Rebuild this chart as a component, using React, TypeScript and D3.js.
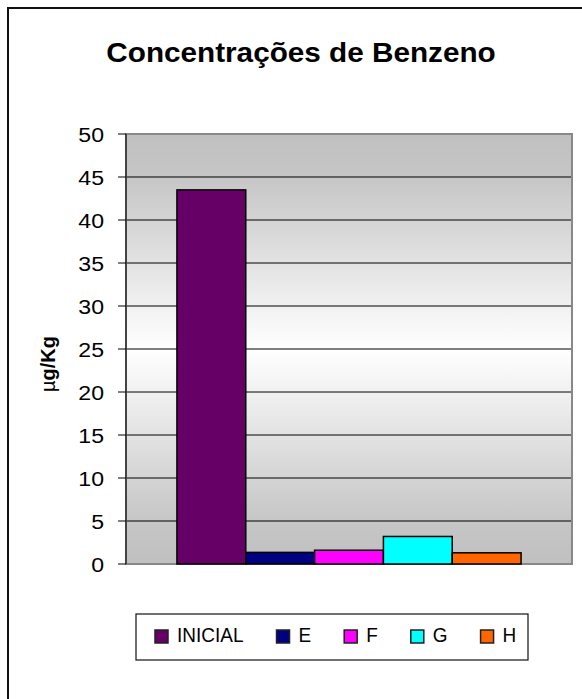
import { useMemo } from "react";
import * as d3 from "d3";

const series = ["INICIAL", "E", "F", "G", "H"];
const values = [43.5, 1.35, 1.6, 3.2, 1.3];
const colors = ["#660066", "#000080", "#FF00FF", "#00FFFF", "#FF6600"];
const yTicks = [0, 5, 10, 15, 20, 25, 30, 35, 40, 45, 50];
const title = "Concentrações de Benzeno";
const yLabelPrefix = "µ";
const yLabel = "g/Kg";

const W = 582;
const H = 699;
const plot = { left: 126, right: 572, top: 134, bottom: 564 };
const font = "'Liberation Sans', Arial, sans-serif";

function measure(text: string, size: number) {
  const c = document.createElement("canvas").getContext("2d");
  if (!c) return text.length * size * 0.6;
  c.font = `${size}px 'Liberation Sans', Arial`;
  return c.measureText(text).width;
}

export default function App() {
  const x = useMemo(
    () =>
      d3
        .scaleBand<string>()
        .domain(series)
        .range([plot.left, plot.right])
        .paddingInner(0)
        .paddingOuter(0.74),
    []
  );
  const y = useMemo(
    () => d3.scaleLinear().domain([0, 50]).range([plot.bottom, plot.top]),
    []
  );

  const legendSize = 20;
  const legendSqueeze = 0.95;
  const legendItems = useMemo(() => {
    let cx = 155;
    return series.map((s, i) => {
      const item = { name: s, color: colors[i], x: cx };
      cx += 13 + 9 + measure(s, legendSize) * legendSqueeze + 33;
      return item;
    });
  }, []);

  return (
    <svg
      width={W}
      height={H}
      style={{ position: "absolute", left: 0, top: 0, background: "#fff" }}
      fontFamily={font}
    >
      <defs>
        <linearGradient id="bg" x1="0" y1="0" x2="0" y2="1">
          <stop offset="0" stopColor="#c0c0c0" />
          <stop offset="0.1" stopColor="#c6c6c6" />
          <stop offset="0.5" stopColor="#ffffff" />
          <stop offset="0.9" stopColor="#c6c6c6" />
          <stop offset="1" stopColor="#c0c0c0" />
        </linearGradient>
      </defs>
      <rect x={8} y={8} width={700} height={800} fill="#fff" stroke="#111" strokeWidth={2} />

      <text
        transform={`translate(301,62) scale(1.1,1)`}
        textAnchor="middle"
        fontSize={27}
        fontWeight="bold"
      >
        {title}
      </text>

      <rect
        x={plot.left}
        y={plot.top}
        width={plot.right - plot.left}
        height={plot.bottom - plot.top}
        fill="url(#bg)"
      />
      {yTicks
        .filter((t) => t > 0 && t < 50)
        .map((t) => (
          <line
            key={t}
            x1={plot.left}
            x2={plot.right}
            y1={y(t)}
            y2={y(t)}
            stroke="#000"
            strokeWidth={1}
          />
        ))}
      <rect
        x={plot.left}
        y={plot.top}
        width={plot.right - plot.left}
        height={plot.bottom - plot.top}
        fill="none"
        stroke="#888"
        strokeWidth={2}
      />

      {series.map((s, i) => (
        <rect
          key={s}
          x={x(s)}
          y={y(values[i])}
          width={x.bandwidth()}
          height={y(0) - y(values[i])}
          fill={colors[i]}
          stroke="#000"
          strokeWidth={1.5}
        />
      ))}

      <line x1={plot.left} x2={plot.left} y1={plot.top} y2={plot.bottom} stroke="#000" />
      {yTicks.map((t) => (
        <g key={t}>
          <line x1={plot.left - 8} x2={plot.left} y1={y(t)} y2={y(t)} stroke="#000" />
          <text
            transform={`translate(104,${y(t) + 7.5}) scale(1.1,1)`}
            textAnchor="end"
            fontSize={21}
          >
            {t}
          </text>
        </g>
      ))}

      <text
        transform={`translate(55,364) rotate(-90)`}
        textAnchor="middle"
        fontSize={20}
        fontWeight="bold"
      >
        <tspan fontWeight="normal">{yLabelPrefix}</tspan>
        {yLabel}
      </text>

      <rect x={136} y={614} width={392} height={46} fill="#fff" stroke="#111" strokeWidth={1.2} />
      {legendItems.map((d) => (
        <g key={d.name}>
          <rect x={d.x} y={630} width={13} height={13} fill={d.color} stroke="#222" strokeWidth={1.5} />
          <text
            transform={`translate(${d.x + 22},642) scale(${legendSqueeze},1)`}
            fontSize={legendSize}
          >
            {d.name}
          </text>
        </g>
      ))}
    </svg>
  );
}
